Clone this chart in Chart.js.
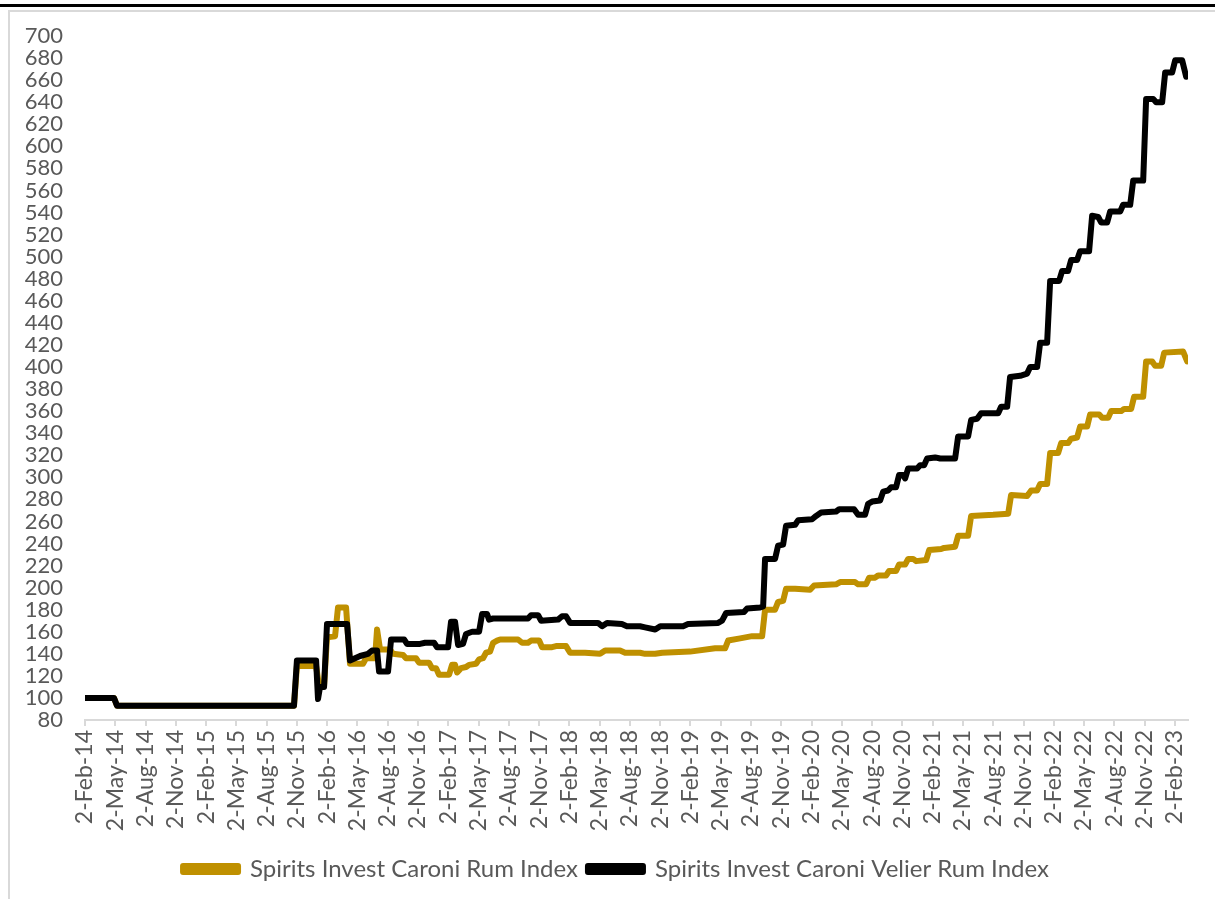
<!DOCTYPE html>
<html>
<head>
<meta charset="utf-8">
<script src="https://cdn.jsdelivr.net/npm/chart.js@4.4.1/dist/chart.umd.min.js"></script>
<style>
  html, body { margin: 0; padding: 0; background: #fff; width: 1215px; height: 899px; overflow: hidden; }
  #topline { position: absolute; left: 0; top: 4px; width: 1215px; height: 3px; background: #000; }
  #frame { position: absolute; left: 8px; top: 10px; width: 1300px; height: 1000px; border-left: 2px solid #d9d9d9; border-top: 2px solid #d9d9d9; }
  #c { position: absolute; left: 0; top: 0; }
</style>
</head>
<body>
<div id="topline"></div>
<div id="frame"></div>
<canvas id="c" width="1215" height="899"></canvas>
<script>
// Months since 2-Feb-14 and index values
const tickLabels = ["2-Feb-14","2-May-14","2-Aug-14","2-Nov-14","2-Feb-15","2-May-15","2-Aug-15","2-Nov-15",
  "2-Feb-16","2-May-16","2-Aug-16","2-Nov-16","2-Feb-17","2-May-17","2-Aug-17","2-Nov-17",
  "2-Feb-18","2-May-18","2-Aug-18","2-Nov-18","2-Feb-19","2-May-19","2-Aug-19","2-Nov-19",
  "2-Feb-20","2-May-20","2-Aug-20","2-Nov-20","2-Feb-21","2-May-21","2-Aug-21","2-Nov-21",
  "2-Feb-22","2-May-22","2-Aug-22","2-Nov-22","2-Feb-23"];

const velierMonths = [0,2.87,3.17,20.71,21.0,22.9,23.09,23.29,23.69,23.98,25.97,26.26,26.76,27.26,28.04,28.44,28.94,
  29.14,30.03,30.33,31.62,31.91,33.2,33.7,34.59,34.89,35.98,36.27,36.67,36.97,37.46,37.76,38.36,39.05,39.35,39.84,
  40.04,40.44,43.9,44.2,44.9,45.19,46.88,47.27,47.67,48.07,50.84,51.24,51.73,53.2,53.7,55.0,55.5,56.5,57.0,59.27,
  59.76,62.74,63.13,63.53,65.31,65.61,66.9,67.2,67.39,68.38,68.68,69.18,69.47,70.37,70.66,72.05,72.45,72.94,74.43,
  74.73,76.21,76.61,77.3,77.6,78.0,78.79,79.09,79.58,79.88,80.37,80.67,81.07,81.27,81.57,82.46,82.75,83.15,83.45,
  84.24,84.74,86.22,86.52,87.51,87.81,88.4,88.8,90.49,90.78,91.38,91.67,92.67,93.36,93.66,94.35,94.65,95.34,95.64,
  96.53,96.83,97.42,97.72,98.31,98.61,99.5,99.8,100.4,100.69,101.29,101.59,102.58,102.87,103.57,103.87,104.86,
  105.15,105.85,106.14,106.74,107.04,107.73,108.03,108.72,109.12];
const velierValues = [100,100,93,93,134,134,99,110,110,167,167,134,136,138,140,143,143,
  124,124,153,153,149,149,150,150,146,146,169,169,148,149,158,160,160,176,176,
  171,172,172,175,175,170,171,174,174,168,168,165,168,167,165,165,164,162,165,165,
  167,168,170,177,178,181,182,183,226,226,238,239,256,257,261,262,265,268,269,
  271,271,266,266,276,278,279,287,288,291,291,302,302,299,308,308,311,311,317,
  318,317,317,337,337,352,353,358,358,364,364,391,392,394,400,400,422,422,478,
  478,487,487,497,497,505,505,537,536,531,531,541,541,547,547,569,569,
  643,643,640,640,667,667,678,678,663];

const caroniMonths = [0,2.87,3.17,20.71,21.0,22.9,23.19,23.69,23.98,24.78,25.07,25.87,26.26,27.55,27.85,28.74,28.94,
  29.24,30.23,30.52,31.52,31.81,32.8,33.1,34.09,34.39,34.79,35.08,36.08,36.37,36.67,36.87,37.26,37.76,38.06,38.75,
  39.05,39.44,39.74,40.14,40.44,40.83,41.13,42.91,43.31,43.9,44.2,45.0,45.29,46.28,46.68,47.67,48.07,49.55,51.04,
  51.54,53.02,53.52,55.0,55.5,56.5,57.2,59.96,62.44,63.43,63.73,64.92,66.1,67.1,67.39,68.38,68.68,69.18,69.47,
  70.37,71.85,72.25,74.43,74.83,76.31,76.61,77.4,77.7,78.29,78.59,79.38,79.68,80.37,80.67,81.27,81.57,82.06,82.36,
  83.35,83.65,84.84,85.13,86.22,86.52,87.51,87.81,89.99,91.48,91.77,93.36,93.76,94.35,94.65,95.34,95.64,96.43,
  96.73,97.42,97.72,98.31,98.61,99.31,99.6,100.5,100.79,101.39,101.68,102.68,102.97,103.67,103.96,104.86,105.15,
  105.75,106.05,106.64,106.94,108.82,109.22];
const caroniValues = [100,100,93,93,129,129,111,111,155,156,182,182,131,131,136,136,162,
  144,144,140,139,136,136,132,132,127,127,121,121,130,130,123,127,128,130,131,
  135,136,141,142,150,152,153,153,150,150,152,152,146,146,147,147,141,141,140,
  143,143,141,141,140,140,141,142,145,145,152,154,156,156,180,180,187,188,199,
  199,198,202,203,205,205,203,203,209,209,211,211,215,215,221,221,226,226,224,
  225,234,235,236,237,247,247,265,266,267,284,283,288,288,294,294,322,322,
  331,331,335,336,346,346,357,357,354,354,360,360,362,362,373,373,405,
  405,401,401,413,414,405];

const seriesNames = ["Spirits Invest Caroni Velier Rum Index", "Spirits Invest Caroni Rum Index"];
const seriesColors = ["#000000", "#BF9000"];

const toPoints = (xs, ys) => xs.map((m, i) => ({ x: m, y: ys[i] }));
const FONT = "Lato, 'Open Sans', sans-serif";
const GREY = "#595959";

// shift the legend block to the right so it sits under the plot as in the reference
const legendShift = {
  id: "legendShift",
  afterLayout(chart) {
    const lg = chart.legend;
    if (lg) { lg.left += 22; lg.right += 22; }
  }
};

new Chart(document.getElementById("c"), {
  type: "line",
  plugins: [legendShift],
  data: {
    datasets: [
      { label: seriesNames[0], data: toPoints(velierMonths, velierValues), borderColor: seriesColors[0],
        backgroundColor: seriesColors[0], borderWidth: 6, pointRadius: 0, tension: 0,
        borderJoinStyle: "round", borderCapStyle: "round" },
      { label: seriesNames[1], data: toPoints(caroniMonths, caroniValues), borderColor: seriesColors[1],
        backgroundColor: seriesColors[1], borderWidth: 6, pointRadius: 0, tension: 0,
        borderJoinStyle: "round", borderCapStyle: "round" }
    ]
  },
  options: {
    responsive: false,
    animation: false,
    layout: { padding: { left: 0, right: 27, top: 36, bottom: 8 } },
    plugins: {
      tooltip: { enabled: false },
      legend: {
        position: "bottom",
        reverse: true,
        labels: { color: GREY, font: { family: FONT, size: 24 }, boxWidth: 55, boxHeight: 6, padding: 10 }
      }
    },
    scales: {
      x: {
        type: "linear",
        min: 0, max: 109.3,
        grid: { display: true, drawOnChartArea: false, drawTicks: true, tickLength: 6, color: "#d9d9d9", lineWidth: 2 },
        border: { display: true, color: "#d9d9d9", width: 2 },
        ticks: {
          stepSize: 3, autoSkip: false, includeBounds: false, minRotation: 90, maxRotation: 90,
          color: GREY, font: { family: FONT, size: 23 }, padding: 4,
          callback: (v) => tickLabels[Math.round(v / 3)]
        },
        afterFit: (s) => { s.height = 127; }
      },
      y: {
        min: 80, max: 700,
        grid: { display: false, drawTicks: false },
        border: { display: false },
        ticks: { stepSize: 20, autoSkip: false, color: GREY, font: { family: FONT, size: 22 }, padding: 22 },
        afterFit: (s) => { s.width = 85; }
      }
    }
  }
});
</script>
</body>
</html>
